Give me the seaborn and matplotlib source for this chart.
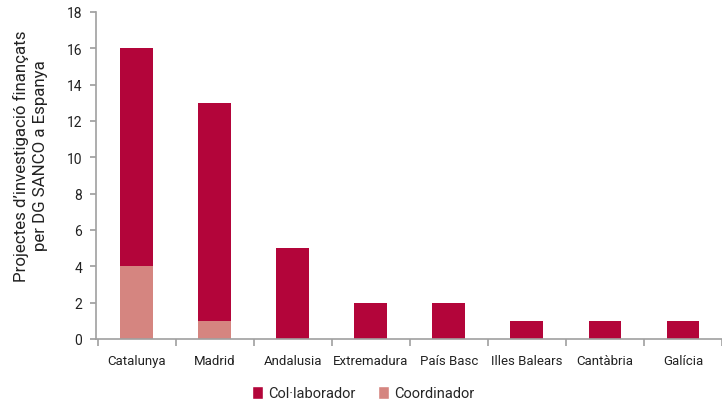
import matplotlib
matplotlib.use("Agg")
import matplotlib.pyplot as plt
import seaborn as sns
import pandas as pd
from matplotlib.patches import Patch

regions = ["Catalunya", "Madrid", "Andalusia", "Extremadura", "País Basc",
           "Illes Balears", "Cantàbria", "Galícia"]
coordinador = [4, 1, 0, 0, 0, 0, 0, 0]
collaborador = [12, 12, 5, 2, 2, 1, 1, 1]

dark = "#B3053A"
light = "#D58580"
grey = "#A0A0A0"
text_col = "#222222"

sns.set_theme(style="white")
plt.rcParams["font.family"] = ["Roboto", "DejaVu Sans"]

df = pd.DataFrame({"region": regions, "coord": coordinador, "collab": collaborador})
df["total"] = df["coord"] + df["collab"]

fig = plt.figure(figsize=(7.22, 4.06), dpi=100)
ax = fig.add_axes([0.133, 0.1626, 0.867, 0.8054])

# total height in dark red, coordinator share painted over the base
sns.barplot(data=df, x="region", y="total", color=dark, width=0.42,
            saturation=1, linewidth=0, ax=ax)
sns.barplot(data=df, x="region", y="coord", color=light, width=0.42,
            saturation=1, linewidth=0, ax=ax)

ax.set_ylim(0, 18)
ax.set_yticks(range(0, 19, 2))
ax.set_xlim(-0.52, 7.39)
ax.set_xlabel("")
ax.set_ylabel("Projectes d’investigació finançats\nper DG SANCO a Espanya",
              fontsize=12.2, color=text_col, linespacing=1.3)
ax.yaxis.set_label_coords(-0.077, 0.563)

for s in ["top", "right"]:
    ax.spines[s].set_visible(False)
for s in ["left", "bottom"]:
    ax.spines[s].set_color(grey)
    ax.spines[s].set_linewidth(1.2)

ax.tick_params(axis="y", left=True, length=4, color=grey, labelsize=10,
               labelcolor=text_col, pad=6)
ax.tick_params(axis="x", which="major", bottom=False, labelsize=9.5,
               labelcolor=text_col, pad=5)
ax.set_xticks([i + 0.5 for i in range(-1, len(regions))], minor=True)
ax.tick_params(axis="x", which="minor", bottom=True, length=5, color=grey,
               width=1.2)

handles = [Patch(facecolor=dark, label="Col·laborador"),
           Patch(facecolor=light, label="Coordinador")]
fig.legend(handles=handles, loc="center", bbox_to_anchor=(0.503, 0.029),
           ncol=2, frameon=False, fontsize=10.5,
           handlelength=0.75, handleheight=1.0, handletextpad=0.3,
           columnspacing=1.6)

fig.savefig("out.png", dpi=100)
